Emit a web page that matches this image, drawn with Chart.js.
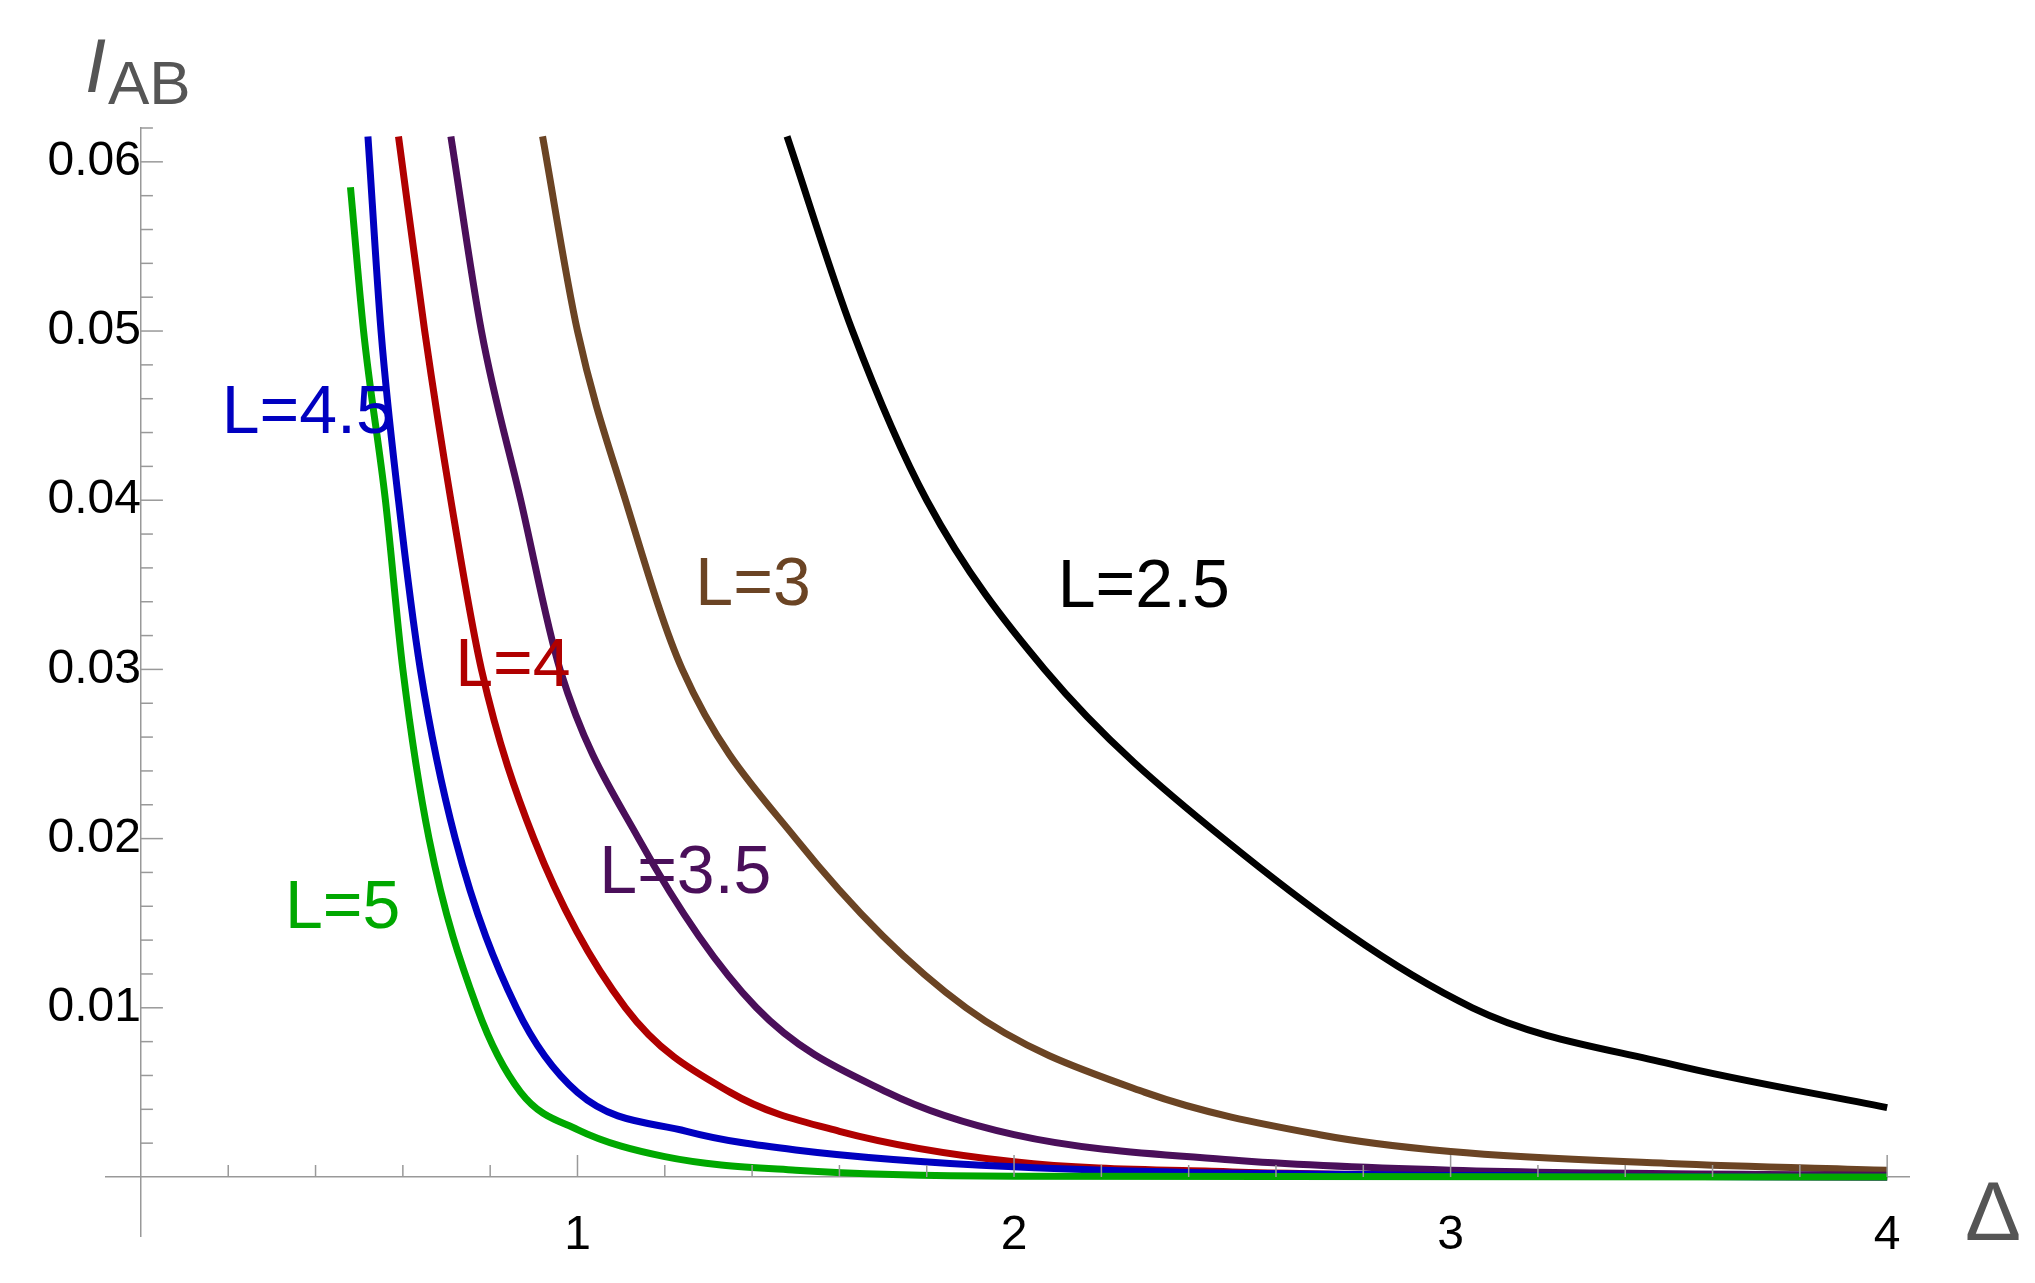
<!DOCTYPE html>
<html><head><meta charset="utf-8">
<script src="https://cdn.jsdelivr.net/npm/chart.js@4"></script>
<style>html,body{margin:0;padding:0;background:#fff}#w{width:2035px;height:1283px}</style>
</head><body><div id="w"><canvas id="c"></canvas></div>
<script>
const labelsL = ["L=2.5","L=3","L=3.5","L=4","L=4.5","L=5"];
const colors = ["#000000","#6b4424","#4a0f5a","#b00000","#0000c0","#00a800"];
const x25 = [1.48,1.63,1.8,2.07,2.48,3.05,3.5,4.0];
const y25 = [0.0615,0.05,0.04,0.03,0.02,0.01,0.0067,0.0041];
const x3 = [0.92,1.0,1.11,1.24,1.5,1.89,2.3,2.7,3.0,3.5,4.0];
const y3 = [0.0615,0.05,0.04,0.03,0.02,0.01,0.005,0.0025,0.0015,0.0008,0.0004];
const x35 = [0.71,0.78,0.87,0.96,1.14,1.41,1.71,2.0,2.5,3.0,4.0];
const y35 = [0.0615,0.05,0.04,0.03,0.02,0.01,0.005,0.0025,0.001,0.0004,0.0001];
const x4 = [0.59,0.65,0.71,0.78,0.9,1.11,1.35,1.6,2.0,2.5,3.0,4.0];
const y4 = [0.0615,0.05,0.04,0.03,0.02,0.01,0.005,0.0027,0.0009,0.0003,0.0001,0];
const x45 = [0.52,0.55,0.59,0.64,0.72,0.86,1.0,1.25,1.5,2.0,3.0,4.0];
const y45 = [0.0615,0.05,0.04,0.03,0.02,0.01,0.005,0.0027,0.0016,0.0006,0.0001,0];
const x5 = [0.48,0.51,0.56,0.6,0.66,0.77,0.87,1.0,1.2,1.5,2.0,4.0];
const y5 = [0.0585,0.05,0.04,0.03,0.02,0.01,0.005,0.0028,0.0012,0.0004,0.00005,0];
const xs=[x25,x3,x35,x4,x45,x5], ys=[y25,y3,y35,y4,y45,y5];
const labelPos = [[2.10,0.0337],[1.27,0.0338],[1.05,0.0168],[0.72,0.029],[0.185,0.044],[0.33,0.0147]];
const xMajor=[1,2,3,4], yMajor=[0.01,0.02,0.03,0.04,0.05,0.06];

const datasets = xs.map((xa,i)=>({label:labelsL[i],data:xa.map((x,j)=>({x,y:ys[i][j]})),
  borderColor:colors[i],borderWidth:7,pointRadius:0,cubicInterpolationMode:'monotone',fill:false}));
datasets.reverse();

const plug={id:'extra',afterDraw(ch){
  const c=ch.ctx,xs_=ch.scales.x,ys_=ch.scales.y;
  const x0=xs_.getPixelForValue(0),y0=ys_.getPixelForValue(0);
  c.save();c.strokeStyle='#999';c.lineWidth=1.5;
  for(let v=0.2;v<=4.01;v+=0.2){const p=xs_.getPixelForValue(v);const maj=Math.abs(v-Math.round(v))<1e-6;
    c.beginPath();c.moveTo(p,y0);c.lineTo(p,y0-(maj?22:12));c.stroke();}
  for(let v=0.002;v<=0.0621;v+=0.002){const p=ys_.getPixelForValue(v);const maj=Math.abs(v*100-Math.round(v*100))<1e-6;
    c.beginPath();c.moveTo(x0,p);c.lineTo(x0+(maj?22:12),p);c.stroke();}
  c.font='68px "Liberation Sans", Arial';
  labelPos.forEach((p,i)=>{c.fillStyle=colors[i];c.fillText(labelsL[i],xs_.getPixelForValue(p[0]),ys_.getPixelForValue(p[1]));});
  c.fillStyle='#555';c.font='italic 76px "Liberation Sans"';c.fillText('I',85,92);
  c.font='62px "Liberation Sans"';c.fillText('AB',108,104);
  c.font='84px "Liberation Sans"';c.fillText('Δ',1965,1240);
  c.restore();}};

new Chart(document.getElementById('c'),{type:'line',data:{datasets},plugins:[plug],
 options:{responsive:true,maintainAspectRatio:false,animation:false,
  layout:{padding:{left:106,right:126,top:128,bottom:18}},
  plugins:{legend:{display:false},tooltip:{enabled:false}},
  scales:{
   x:{type:'linear',min:-0.08,max:4.05,position:{y:0},
     border:{color:'#999',width:1.5},grid:{display:false},
     afterBuildTicks(s){s.ticks=xMajor.map(v=>({value:v}));},
     ticks:{color:'#000',font:{size:48,family:'Liberation Sans'},padding:22}},
   y:{type:'linear',min:-0.0035,max:0.062,position:{x:0},
     border:{color:'#999',width:1.5},grid:{display:false},
     afterBuildTicks(s){s.ticks=yMajor.map(v=>({value:v}));},
     ticks:{color:'#000',font:{size:48,family:'Liberation Sans'},padding:18,callback:v=>v.toFixed(2)}}
  }}});
</script></body></html>
